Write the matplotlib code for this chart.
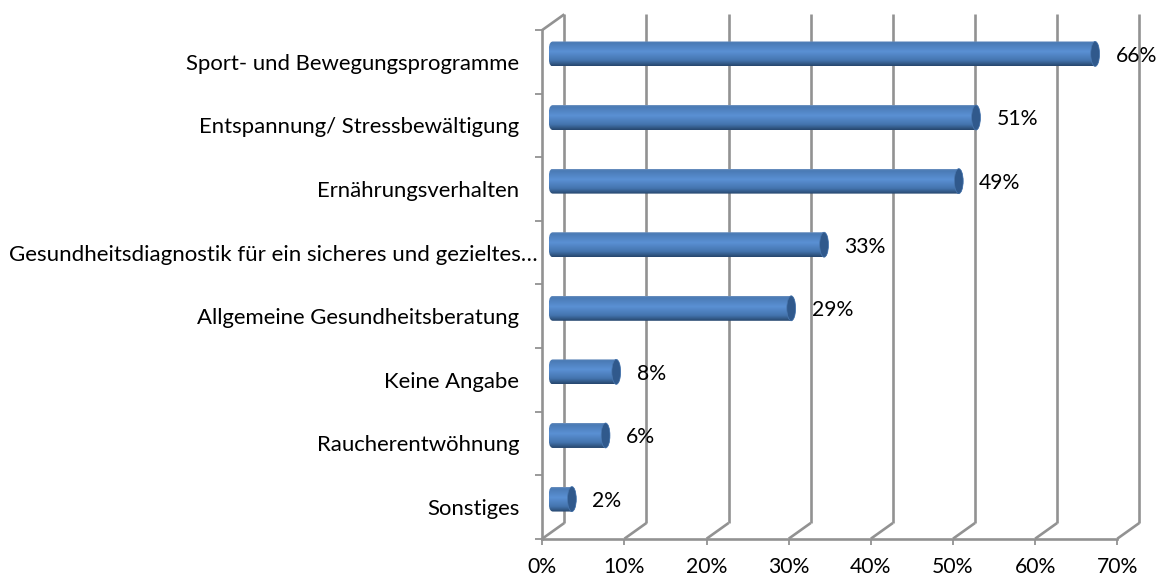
import matplotlib
matplotlib.use("Agg")
import matplotlib.pyplot as plt
import numpy as np
from matplotlib.colors import LinearSegmentedColormap
from matplotlib.patches import Ellipse, PathPatch
from matplotlib.path import Path
from matplotlib.transforms import Affine2D, ScaledTranslation

categories = [
    "Sport- und Bewegungsprogramme",
    "Entspannung/ Stressbewältigung",
    "Ernährungsverhalten",
    "Gesundheitsdiagnostik für ein sicheres und gezieltes…",
    "Allgemeine Gesundheitsberatung",
    "Keine Angabe",
    "Raucherentwöhnung",
    "Sonstiges",
]
values = [66.0, 51.5, 49.4, 33.0, 29.0, 7.7, 6.4, 2.3]
value_labels = ["66%", "51%", "49%", "33%", "29%", "8%", "6%", "2%"]
x_ticks = [0, 10, 20, 30, 40, 50, 60, 70]
x_tick_labels = ["0%", "10%", "20%", "30%", "40%", "50%", "60%", "70%"]

W, H = 1164, 578
DPI = 100
GREY = "#929292"

plt.rcParams["font.family"] = ["Lato", "DejaVu Sans"]
plt.rcParams["font.size"] = 15.9

fig = plt.figure(figsize=(W / DPI, H / DPI), dpi=DPI)
ax = fig.add_axes([542.3 / W, 1 - 538.7 / H, 575 / W, 508.7 / H])


def px_offset(dx, dy):
    # shift in screen pixels, dy counted upwards
    return ScaledTranslation(dx / DPI, dy / DPI, fig.dpi_scale_trans)


# back wall of the fake 3d box
back = ax.transData + px_offset(22, 15.7)
for x in x_ticks:
    ax.plot([x, x], [8, 0], color=GREY, lw=1.9, transform=back, clip_on=False, zorder=1,
            solid_capstyle="butt")
    ax.plot([x, x + 22 * 70 / 575], [8, 8 - 15.7 * 8 / 508.7], color=GREY, lw=1.9, clip_on=False,
            zorder=1, solid_capstyle="butt")
ax.plot([0, 22 * 70 / 575], [0, -15.7 * 8 / 508.7], color=GREY, lw=1.9, clip_on=False, zorder=1,
        solid_capstyle="butt")

# cylinders
cyl = LinearSegmentedColormap.from_list(
    "cyl",
    [(0, "#6f93c0"), (0.05, "#4a7ab4"), (0.42, "#5a90d4"), (0.78, "#4474ae"), (0.93, "#305682"), (1, "#27466e")],
)
grad = np.linspace(0, 1, 64).reshape(-1, 1)
bar_tr = ax.transData + px_offset(10.7, 7.85)
bar_h = 0.393
rx = 4.4 * 70 / 575

for i, v in enumerate(values):
    y0, y1 = i + 0.5 - bar_h / 2, i + 0.5 + bar_h / 2
    ym = i + 0.5
    body = Path(
        [(0, y0), (v, y0), (v, y1), (0, y1),
         (-rx, y1), (-rx, y1 - 0.3 * bar_h), (-rx, ym),
         (-rx, y0 + 0.3 * bar_h), (-rx, y0), (0, y0), (0, y0)],
        [Path.MOVETO, Path.LINETO, Path.LINETO, Path.LINETO,
         Path.CURVE4, Path.CURVE4, Path.CURVE4,
         Path.CURVE4, Path.CURVE4, Path.CURVE4, Path.CLOSEPOLY],
    )
    oval = Affine2D().scale(rx, bar_h / 2)
    right_end = Path.unit_circle().transformed(oval + Affine2D().translate(v, ym))
    shape = Path.make_compound_path(body, right_end)
    clip = PathPatch(shape, transform=bar_tr, fc="none", ec="none")
    ax.add_patch(clip)
    im = ax.imshow(grad, cmap=cyl, aspect="auto", extent=(-rx, v + rx, y1, y0),
                   transform=bar_tr, zorder=2, interpolation="bilinear")
    im.set_clip_path(clip)
    ax.add_patch(Ellipse((v, ym), 2 * rx, bar_h, transform=bar_tr, fc="#30598c",
                         ec="#4a78b0", lw=0.5, zorder=3, clip_on=False))
    ax.text(v, ym, value_labels[i], transform=ax.transData + px_offset(10.7 + 4.4 + 16, 6.0),
            ha="left", va="center", color="black", fontsize=15.2, zorder=4, clip_on=False)

ax.set_xlim(0, 70)
ax.set_ylim(8, 0)

for side in ["top", "right"]:
    ax.spines[side].set_visible(False)
for side in ["left", "bottom"]:
    ax.spines[side].set_color(GREY)
    ax.spines[side].set_linewidth(1.9)

ax.set_xticks(x_ticks)
ax.set_xticklabels(x_tick_labels, fontsize=15.2)
ax.tick_params(axis="x", length=4.5, width=1.3, color=GREY, pad=8.5, labelcolor="black")

# label ticks in the slot centres, marks on the slot edges
ax.set_yticks(np.arange(len(categories)) + 0.5)
ax.set_yticklabels(categories)
ax.set_yticks(np.arange(len(categories) + 1), minor=True)
ax.tick_params(axis="y", which="major", length=0, pad=16.5, labelcolor="black")
ax.tick_params(axis="y", which="minor", length=5, width=1.3, color=GREY)
long_tick = ax.yaxis.get_major_ticks()[3]
long_tick.set_pad(3.6)
long_tick.label1.set_fontsize(16.0)

fig.savefig("out.png", dpi=DPI)
